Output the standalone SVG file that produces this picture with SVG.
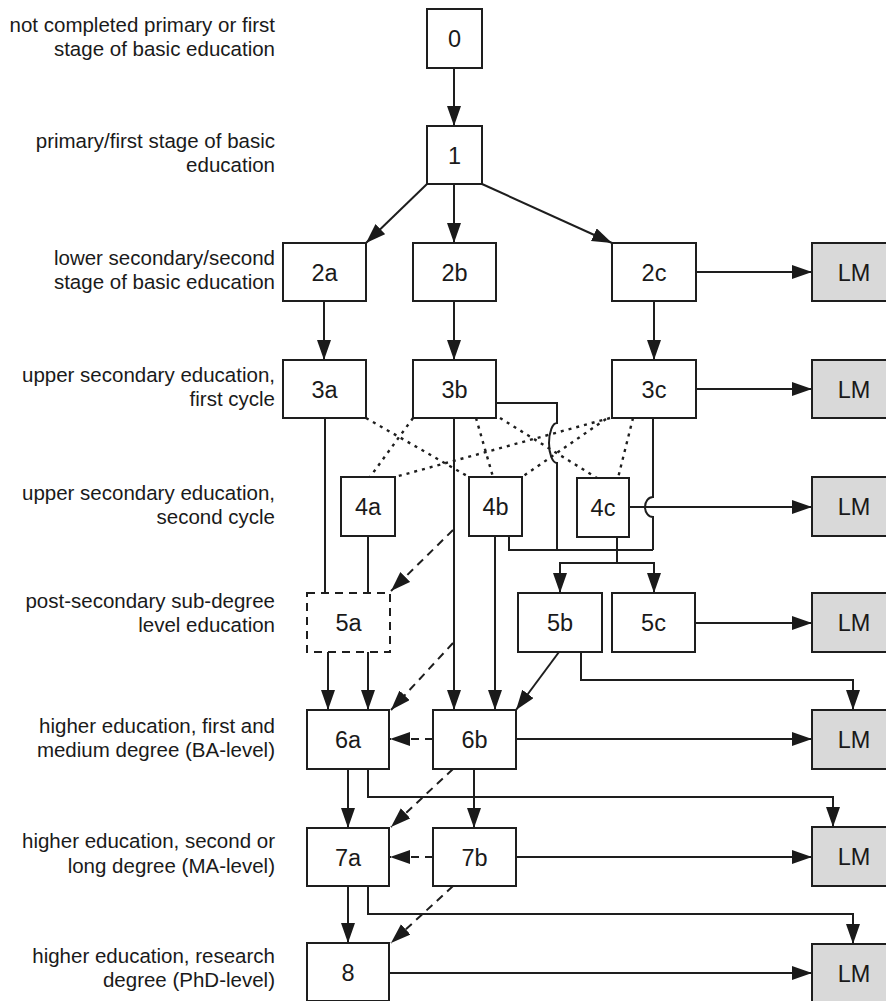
<svg xmlns="http://www.w3.org/2000/svg" width="886" height="1001" viewBox="0 0 886 1001">
<style>
  .box{fill:#fff;stroke:#1e1e1e;stroke-width:2}
  .lm{fill:#d9d9d9;stroke:#1e1e1e;stroke-width:2}
  .dbox{fill:#fff;stroke:#1e1e1e;stroke-width:2;stroke-dasharray:8 6}
  .t{font-family:"Liberation Sans",Arial,sans-serif;font-size:23.5px;fill:#1a1a1a;text-anchor:middle}
  .tl{font-family:"Liberation Sans",Arial,sans-serif;font-size:23.5px;fill:#1a1a1a;text-anchor:middle}
  .lab{font-family:"Liberation Sans",Arial,sans-serif;font-size:20.5px;fill:#1a1a1a;text-anchor:end}
  .c{fill:none;stroke:#1e1e1e;stroke-width:2}
  .a{fill:none;stroke:#1e1e1e;stroke-width:2;marker-end:url(#ah)}
  .da{fill:none;stroke:#1e1e1e;stroke-width:2;stroke-dasharray:8 6;marker-end:url(#ah)}
  .dot{fill:none;stroke:#1e1e1e;stroke-width:2.4;stroke-dasharray:3 5}
</style>
<defs>
  <marker id="ah" markerUnits="userSpaceOnUse" markerWidth="21" markerHeight="15" refX="20" refY="7" orient="auto">
    <path d="M0,0 L20,7 L0,14 z" fill="#1a1a1a"/>
  </marker>
</defs>
<rect width="886" height="1001" fill="#fff"/>

<g id="labels">
  <text class="lab" x="275" y="31.5">not completed primary or first</text>
  <text class="lab" x="275" y="55.5">stage of basic education</text>
  <text class="lab" x="275" y="148">primary/first stage of basic</text>
  <text class="lab" x="275" y="172">education</text>
  <text class="lab" x="275" y="265">lower secondary/second</text>
  <text class="lab" x="275" y="289">stage of basic education</text>
  <text class="lab" x="275" y="382">upper secondary education,</text>
  <text class="lab" x="275" y="406">first cycle</text>
  <text class="lab" x="275" y="500">upper secondary education,</text>
  <text class="lab" x="275" y="524">second cycle</text>
  <text class="lab" x="275" y="608">post-secondary sub-degree</text>
  <text class="lab" x="275" y="632">level education</text>
  <text class="lab" x="275" y="733">higher education, first and</text>
  <text class="lab" x="275" y="757">medium degree (BA-level)</text>
  <text class="lab" x="275" y="848">higher education, second or</text>
  <text class="lab" x="275" y="873">long degree (MA-level)</text>
  <text class="lab" x="275" y="963">higher education, research</text>
  <text class="lab" x="275" y="987">degree (PhD-level)</text>
</g>

<g id="connectors">
  <path class="a" d="M454,68 L454,126"/>
  <path class="a" d="M427,184 L366,243"/>
  <path class="a" d="M454,184 L454,243"/>
  <path class="a" d="M482,184 L612,243"/>
  <path class="a" d="M324,301 L324,360"/>
  <path class="a" d="M454,301 L454,360"/>
  <path class="a" d="M654,301 L654,360"/>
  <path class="a" d="M696,272 L812,272"/>
  <path class="a" d="M696,389 L812,389"/>
  <!-- dotted cross links -->
  <path class="dot" d="M366,418 L469,477"/>
  <path class="dot" d="M413,418 L370,477"/>
  <path class="dot" d="M610,418 L395,477"/>
  <path class="dot" d="M476,418 L493,477"/>
  <path class="dot" d="M500,418 L597,478"/>
  <path class="dot" d="M606,419 L522,477"/>
  <path class="dot" d="M633,418 L618,478"/>
  <!-- 3b right line with hop -->
  <path class="c" d="M496,403 L557,403 L557,423 A8 20 0 0 0 557,463 L557,550"/>
  <!-- 3c down line with hop -->
  <path class="c" d="M653,418 L653,497 A8 10 0 0 0 653,517 L653,550"/>
  <!-- 4b to junction -->
  <path class="c" d="M509,536 L509,550 L653,550"/>
  <!-- 4c to LM -->
  <path class="a" d="M629,507 L812,507"/>
  <!-- 4c to 5b/5c -->
  <path class="c" d="M617,537 L617,563"/>
  <path class="c" d="M559,563 L655,563"/>
  <path class="a" d="M560,562 L560,593"/>
  <path class="a" d="M654,562 L654,593"/>
  <!-- 3a, 4a to 5a -->
  <path class="c" d="M325,418 L325,593"/>
  <path class="c" d="M368,536 L368,593"/>
  <!-- 3b long, 4b to 6b -->
  <path class="a" d="M454,418 L454,710"/>
  <path class="a" d="M495,536 L495,710"/>
  <!-- dashed diagonals -->
  <path class="da" d="M453,530 L391,591"/>
  <path class="da" d="M453,643 L391,710"/>
  <path class="da" d="M453,769 L391,827"/>
  <path class="da" d="M453,886 L391,943"/>
  <!-- 5a to 6a -->
  <path class="a" d="M328,652 L328,710"/>
  <path class="a" d="M368,652 L368,710"/>
  <!-- 5b to 6b -->
  <path class="a" d="M559,652 L516,710"/>
  <path class="a" d="M581,652 L581,680 L853,680 L853,710"/>
  <path class="a" d="M695,623 L812,623"/>
  <!-- 6 row -->
  <path class="da" d="M433,739 L390,739"/>
  <path class="a" d="M516,739 L812,739"/>
  <path class="a" d="M348,769 L348,828"/>
  <path class="a" d="M368,769 L368,797 L833,797 L833,827"/>
  <path class="a" d="M474,769 L474,828"/>
  <!-- 7 row -->
  <path class="da" d="M433,857 L390,857"/>
  <path class="a" d="M516,857 L812,857"/>
  <path class="a" d="M348,886 L348,943"/>
  <path class="a" d="M368,886 L368,914 L853,914 L853,944"/>
  <!-- 8 row -->
  <path class="a" d="M389,973 L812,973"/>
</g>

<g id="n0"><rect class="box" x="427" y="9" width="55" height="59"/><text class="t" x="454.5" y="47">0</text></g>
<g id="n1"><rect class="box" x="427" y="126" width="55" height="58"/><text class="t" x="454.5" y="163.5">1</text></g>
<g id="n2a"><rect class="box" x="283" y="243" width="83" height="58"/><text class="t" x="324.5" y="280.5">2a</text></g>
<g id="n2b"><rect class="box" x="413" y="243" width="83" height="58"/><text class="t" x="454.5" y="280.5">2b</text></g>
<g id="n2c"><rect class="box" x="612" y="243" width="84" height="58"/><text class="t" x="654" y="280.5">2c</text></g>
<g id="n3a"><rect class="box" x="283" y="360" width="83" height="58"/><text class="t" x="324.5" y="397.5">3a</text></g>
<g id="n3b"><rect class="box" x="413" y="360" width="83" height="58"/><text class="t" x="454.5" y="397.5">3b</text></g>
<g id="n3c"><rect class="box" x="612" y="360" width="84" height="58"/><text class="t" x="654" y="397.5">3c</text></g>
<g id="n4a"><rect class="box" x="341" y="477" width="54" height="59"/><text class="t" x="368" y="515">4a</text></g>
<g id="n4b"><rect class="box" x="469" y="477" width="53" height="59"/><text class="t" x="495.5" y="515">4b</text></g>
<g id="n4c"><rect class="box" x="577" y="478" width="52" height="59"/><text class="t" x="603" y="516">4c</text></g>
<g id="n5a"><rect class="dbox" x="307" y="593" width="83" height="59"/><text class="t" x="348.5" y="631">5a</text></g>
<g id="n5b"><rect class="box" x="518" y="593" width="84" height="59"/><text class="t" x="560" y="631">5b</text></g>
<g id="n5c"><rect class="box" x="612" y="593" width="83" height="59"/><text class="t" x="653.5" y="631">5c</text></g>
<g id="n6a"><rect class="box" x="307" y="710" width="82" height="59"/><text class="t" x="348" y="748">6a</text></g>
<g id="n6b"><rect class="box" x="433" y="710" width="83" height="59"/><text class="t" x="474.5" y="748">6b</text></g>
<g id="n7a"><rect class="box" x="307" y="828" width="82" height="58"/><text class="t" x="348" y="865.5">7a</text></g>
<g id="n7b"><rect class="box" x="433" y="828" width="83" height="58"/><text class="t" x="474.5" y="865.5">7b</text></g>
<g id="n8"><rect class="box" x="307" y="943" width="82" height="58"/><text class="t" x="348" y="980.5">8</text></g>

<g id="lm2"><rect class="lm" x="812" y="243" width="84" height="58"/><text class="tl" x="854" y="280.5">LM</text></g>
<g id="lm3"><rect class="lm" x="812" y="360" width="84" height="58"/><text class="tl" x="854" y="397.5">LM</text></g>
<g id="lm4"><rect class="lm" x="812" y="477" width="84" height="59"/><text class="tl" x="854" y="515">LM</text></g>
<g id="lm5"><rect class="lm" x="812" y="593" width="84" height="59"/><text class="tl" x="854" y="631">LM</text></g>
<g id="lm6"><rect class="lm" x="812" y="710" width="84" height="59"/><text class="tl" x="854" y="748">LM</text></g>
<g id="lm7"><rect class="lm" x="812" y="827" width="84" height="59"/><text class="tl" x="854" y="865">LM</text></g>
<g id="lm8"><rect class="lm" x="812" y="944" width="84" height="58"/><text class="tl" x="854" y="981.5">LM</text></g>
</svg>
